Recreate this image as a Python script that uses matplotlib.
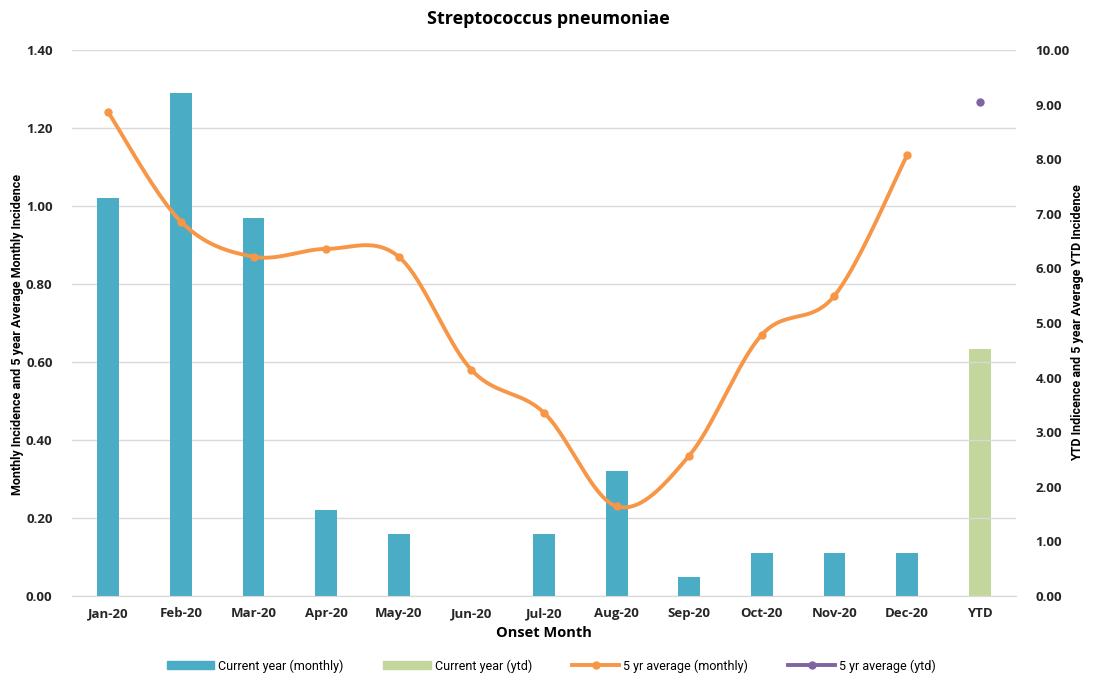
import numpy as np
import matplotlib
matplotlib.use("Agg")
import matplotlib.pyplot as plt
from matplotlib.patches import Patch
from matplotlib.lines import Line2D

months = ['Jan-20', 'Feb-20', 'Mar-20', 'Apr-20', 'May-20', 'Jun-20', 'Jul-20',
          'Aug-20', 'Sep-20', 'Oct-20', 'Nov-20', 'Dec-20']
categories = months + ['YTD']
current_monthly = [1.02, 1.29, 0.97, 0.22, 0.16, 0.0, 0.16, 0.32, 0.05, 0.11, 0.11, 0.11]
avg_monthly = [1.24, 0.96, 0.87, 0.89, 0.87, 0.58, 0.47, 0.23, 0.36, 0.67, 0.77, 1.13]
current_ytd = 4.52
avg_ytd = 9.05

teal = '#4BACC6'
green = '#C3D69B'
orange = '#F79646'
purple = '#8064A2'
grid_col = '#D9D9D9'


def smooth(xs, ys, n=40):
    # excel style smoothed line: cubic bezier with catmull-rom control points
    xs = np.asarray(xs, float)
    ys = np.asarray(ys, float)
    px = np.concatenate([[xs[0]], xs, [xs[-1]]])
    py = np.concatenate([[ys[0]], ys, [ys[-1]]])
    outx, outy = [], []
    t = np.linspace(0, 1, n)
    for i in range(1, len(px) - 2):
        p0 = np.array([px[i], py[i]])
        p3 = np.array([px[i + 1], py[i + 1]])
        c1 = p0 + (np.array([px[i + 1], py[i + 1]]) - np.array([px[i - 1], py[i - 1]])) / 6
        c2 = p3 - (np.array([px[i + 2], py[i + 2]]) - np.array([px[i], py[i]])) / 6
        b = ((1 - t) ** 3)[:, None] * p0 + (3 * (1 - t) ** 2 * t)[:, None] * c1 \
            + (3 * (1 - t) * t ** 2)[:, None] * c2 + (t ** 3)[:, None] * p3
        outx.extend(b[:, 0])
        outy.extend(b[:, 1])
    return outx, outy


plt.rcParams['font.family'] = ['Open Sans', 'DejaVu Sans']

fig = plt.figure(figsize=(10.96, 6.76), dpi=100)
ax = fig.add_axes([0.0657, 0.1183, 0.8613, 0.8077])
ax2 = ax.twinx()

x = np.arange(len(categories))
xm = x[:len(months)]

ax.set_ylim(0, 1.4)
ax.set_yticks(np.arange(0, 1.41, 0.2))
ax.set_yticklabels(['%.2f' % v for v in np.arange(0, 1.41, 0.2)])
ax2.set_ylim(0, 10)
ax2.set_yticks(np.arange(0, 11, 1))
ax2.set_yticklabels(['%.2f' % v for v in np.arange(0, 11, 1)])
ax.set_xlim(-0.5, len(categories) - 0.5)

ax.grid(axis='y', color=grid_col, linewidth=1)
ax.set_axisbelow(True)

ax.bar(xm, current_monthly, width=0.3, color=teal, zorder=2)
ax2.bar([x[-1]], [current_ytd], width=0.3, color=green, zorder=2)

sx, sy = smooth(xm, avg_monthly)
ax.plot(sx, sy, color=orange, linewidth=2.8, zorder=4, solid_capstyle='round')
ax.plot(xm, avg_monthly, 'o', color=orange, markersize=5, zorder=5)
ax2.plot([x[-1]], [avg_ytd], 'o', color=purple, markersize=5, zorder=5)

ax.set_zorder(ax2.get_zorder() + 1)
ax.patch.set_visible(False)

for a in (ax, ax2):
    for s in ('top', 'left', 'right'):
        a.spines[s].set_visible(False)
    a.spines['bottom'].set_color(grid_col)
    a.tick_params(length=0, labelsize=9.5, colors='#262626')
    for lab in a.get_yticklabels():
        lab.set_fontweight('bold')

ax.set_xticks(x)
ax.set_xticklabels(categories, fontweight='bold', fontsize=9.5, color='#262626')
ax.tick_params(axis='x', pad=8)
ax.tick_params(axis='y', pad=14)
ax2.tick_params(axis='y', pad=14)

ax.set_xlabel('Onset Month', fontweight='bold', fontsize=10.5, labelpad=4)
ax.set_ylabel('Monthly Incidence and 5 year Average Monthly Incidence',
              fontweight='bold', fontsize=9, family='Roboto')
ax2.set_ylabel('YTD Indicence and 5 year Average YTD Incidence',
               fontweight='bold', fontsize=9, family='Roboto')
ax.yaxis.set_label_coords(-0.051, 0.48)
ax2.yaxis.set_label_coords(1.058, 0.5)

fig.suptitle('Streptococcus pneumoniae', fontweight='bold', fontsize=13, y=0.985)

handles = [
    Patch(color=teal),
    Patch(color=green),
    Line2D([0], [0], color=orange, linewidth=2.8, marker='o', markersize=5),
    Line2D([0], [0], color=purple, linewidth=2.8, marker='o', markersize=5),
]
labels = ['Current year (monthly)', 'Current year (ytd)', '5 yr average (monthly)',
          '5 yr average (ytd)']
fig.legend(handles, labels, loc='center', bbox_to_anchor=(0.503, 0.015), ncol=4,
           frameon=False, prop={'family': 'Roboto', 'size': 9},
           handlelength=3.8, handleheight=0.6, columnspacing=3.2, handletextpad=0.3)

fig.savefig('out.png', dpi=100)
